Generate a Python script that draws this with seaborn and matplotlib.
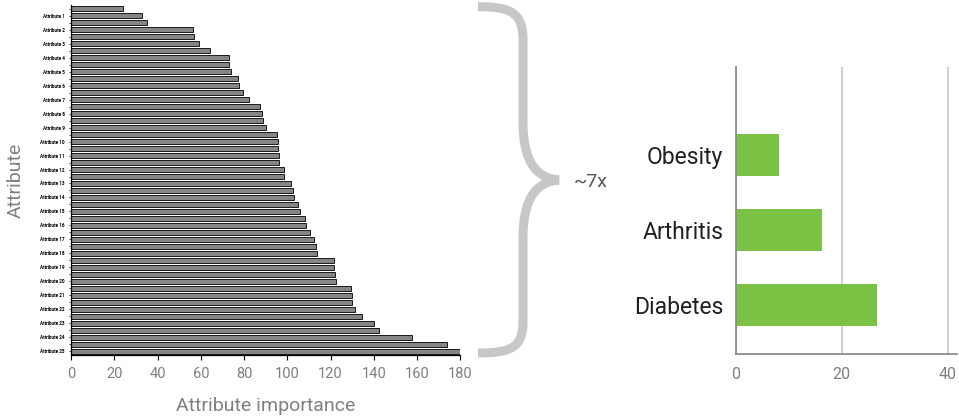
import seaborn as sns
import matplotlib.pyplot as plt
from matplotlib.path import Path
from matplotlib.patches import PathPatch
from matplotlib.transforms import Affine2D

# Left chart: attribute importance, 50 bars, every second one labelled
importance = [23.9, 33.0, 35.1, 56.5, 56.9, 59.2, 64.1, 73.2, 73.2, 74.1,
              77.2, 77.6, 79.5, 82.1, 87.5, 88.4, 88.9, 90.3, 95.3, 95.8,
              95.8, 96.3, 96.3, 98.4, 98.4, 101.7, 102.5, 102.9, 104.8, 105.7,
              108.3, 108.8, 110.6, 112.5, 113.4, 113.8, 121.6, 121.6, 122.0, 122.5,
              129.3, 130.0, 130.0, 131.3, 134.6, 140.0, 142.4, 157.7, 173.9, 179.9]
bar_ids = [f"bar {i}" for i in range(1, len(importance) + 1)]
tick_labels = [f"Attribute {k}" for k in range(1, 26)]
left_ticks = [0, 20, 40, 60, 80, 100, 120, 140, 160, 180]

# Right chart
conditions = ["Obesity", "Arthritis", "Diabetes"]
prevalence = [8.2, 16.3, 26.7]
right_ticks = [0, 20, 40]

sns.set_theme(style="white")
plt.rcParams["font.family"] = ["Roboto", "DejaVu Sans"]

W, H = 959, 417
fig = plt.figure(figsize=(W / 100, H / 100), dpi=100)

# ---- left panel ----
ax1 = fig.add_axes([71 / W, 62 / H, 389.3 / W, 350 / H])
sns.barplot(x=importance, y=bar_ids, orient="h", color="#858585", saturation=1,
            edgecolor="black", linewidth=0.6, width=0.64, ax=ax1)
ax1.set_xlim(0, 180)
ax1.set_ylim(49.53, -0.53)
ax1.set_xticks(left_ticks)
ax1.set_xticklabels([str(t) for t in left_ticks], fontsize=10.5, color="#808080")
ax1.set_yticks(range(1, len(importance), 2))
ax1.set_yticklabels(tick_labels, fontsize=3.3, fontweight="bold", color="black")
ax1.set_yticks(range(0, len(importance), 2), minor=True)
ax1.tick_params(axis="x", bottom=True, length=3.5, width=0.8, color="black", pad=5)
ax1.tick_params(axis="y", which="both", left=True, length=1.5, width=0.5,
                color="black", pad=3)
for s in ["left", "bottom"]:
    ax1.spines[s].set_color("black")
    ax1.spines[s].set_linewidth(0.9)
sns.despine(ax=ax1)
ax1.set_xlabel("Attribute importance", fontsize=14, color="#808080", labelpad=12)
ax1.set_ylabel("Attribute", fontsize=14, color="#808080", labelpad=11)

# ---- right panel ----
ax2 = fig.add_axes([735.7 / W, 62.7 / H, 221 / W, 287.6 / H])
sns.barplot(x=prevalence, y=conditions, orient="h", color="#7bc143", saturation=1,
            width=0.56, linewidth=0, ax=ax2)
ax2.set_xlim(0, 41.7)
ax2.set_ylim(2.66, -1.18)
ax2.set_xticks(right_ticks)
ax2.set_xticklabels([str(t) for t in right_ticks], fontsize=11.5, color="#808080")
ax2.tick_params(axis="x", length=0, pad=9)
ax2.tick_params(axis="y", length=0, pad=9)
for lab in ax2.get_yticklabels():
    lab.set_fontsize(16.5)
    lab.set_color("#231f20")
ax2.xaxis.grid(True, color="#cccccc", linewidth=1.3)
ax2.set_axisbelow(True)
for s in ["left", "bottom"]:
    ax2.spines[s].set_color("#8c8c8c")
    ax2.spines[s].set_linewidth(1.3)
sns.despine(ax=ax2)
ax2.set_xlabel("")
ax2.set_ylabel("")

# ---- curly brace and ratio note (pixel coordinates, y down) ----
px = Affine2D().scale(1 / W, -1 / H).translate(0, 1) + fig.transFigure
verts = [(478, 6.7),
         (510, 6.7), (523, 12), (523, 40),
         (523, 122),
         (523, 160), (535, 178), (559, 180),
         (535, 182), (523, 200), (523, 238),
         (523, 322),
         (523, 348), (510, 353), (478, 353)]
codes = ([Path.MOVETO] + [Path.CURVE4] * 3 + [Path.LINETO] + [Path.CURVE4] * 6
         + [Path.LINETO] + [Path.CURVE4] * 3)
brace = PathPatch(Path(verts, codes), transform=px, facecolor="none",
                  edgecolor="#c6c7c9", linewidth=6.5, capstyle="butt", joinstyle="miter")
fig.add_artist(brace)
fig.text(591 / W, 1 - 182 / H, "~7x", fontsize=14, color="#555555",
         ha="center", va="center")

fig.savefig("out.png", dpi=100)
